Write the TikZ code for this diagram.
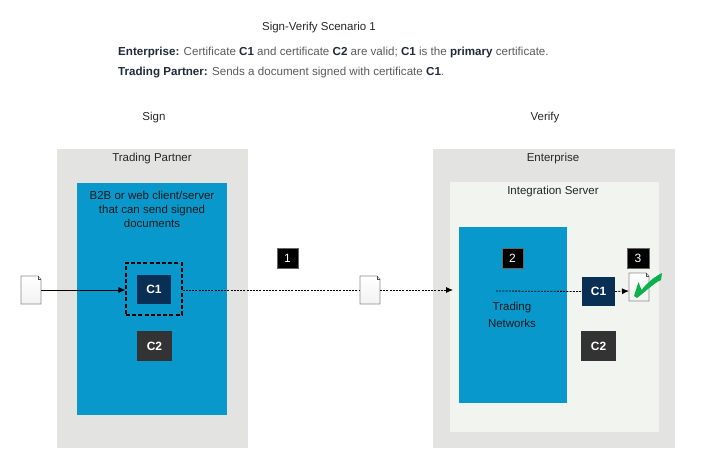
\documentclass[tikz,border=0pt]{standalone}
\usepackage{fontspec}
\setmainfont{Liberation Sans}
\usetikzlibrary{arrows.meta}
\definecolor{panel}{HTML}{E3E3E2}
\definecolor{inner}{HTML}{F2F4F0}
\definecolor{bluebox}{HTML}{0898CC}
\definecolor{navy}{HTML}{0A2F55}
\definecolor{darkc}{HTML}{333333}
\definecolor{bodytxt}{HTML}{5A5A5A}
\definecolor{headtxt}{HTML}{1F2A3A}
\definecolor{tick}{HTML}{0DB14B}
\tikzset{
  x=1pt,y=-1pt,
  panelbox/.style={fill=panel,draw=none,minimum width=#1,inner sep=0},
  txt/.style={font=\fontsize{11.5}{14}\selectfont,text=black!85,inner sep=0,align=center},
  cert/.style={fill=#1,text=white,font=\fontsize{12}{14}\selectfont\bfseries,inner sep=0},
  badge/.style={fill=black,draw=black!60,line width=.4pt,text=white,font=\fontsize{12}{14}\selectfont,inner sep=0,minimum width=21,minimum height=20},
  docu/.style={draw=black!45,line width=.7pt,top color=white,bottom color=black!5},
  flow/.style={densely dashed,dash pattern=on 2pt off 1.2pt,line width=.8pt,-{Latex[length=7pt,width=6pt]}},
  flowplain/.style={dash pattern=on 2pt off 1.2pt,line width=.8pt},
  solidflow/.style={line width=.8pt,-{Latex[length=7pt,width=6pt]}},
}
\newcommand{\docshape}[3]{% name, left, top
  \path[docu] (#2,#3) -- (#2+17,#3) -- (#2+20,#3+3) -- (#2+20,#3+28) -- (#2,#3+28) -- cycle;
  \draw[black!70,line width=.5pt] (#2+17,#3) -- (#2+17,#3+3) -- (#2+20,#3+3);
  \coordinate (#1W) at (#2,#3+14);
  \coordinate (#1E) at (#2+20,#3+14);
}
\begin{document}
\begin{tikzpicture}
\useasboundingbox (0,0) rectangle (701,465);
% panels
\fill[panel] (57,149) rectangle (248,448);
\fill[panel] (433,149) rectangle (675,448);
\fill[inner] (450,182) rectangle (659,432);
\fill[bluebox] (77,183) rectangle (227,415);
\fill[bluebox] (459,227) rectangle (567,403);
% heading text
\node[txt,anchor=center] (title) at (319,28) {Sign-Verify Scenario 1};
\node[anchor=west,inner sep=0,font=\fontsize{11.6}{14}\selectfont,text=bodytxt] (ent) at (118,52.5) {\textcolor{headtxt}{\textbf{Enterprise:}} Certificate \textcolor{headtxt}{\textbf{C1}} and certificate \textcolor{headtxt}{\textbf{C2}} are valid; \textcolor{headtxt}{\textbf{C1}} is the \textcolor{headtxt}{\textbf{primary}} certificate.};
\node[anchor=west,inner sep=0,font=\fontsize{11.6}{14}\selectfont,text=bodytxt] (tp) at (118,73) {\textcolor{headtxt}{\textbf{Trading Partner:}} Sends a document signed with certificate \textcolor{headtxt}{\textbf{C1}}.};
\node[txt] (sign) at (154,118) {Sign};
\node[txt] (verify) at (545,118) {Verify};
\node[txt] (ltitle) at (152,159) {Trading Partner};
\node[txt] (rtitle) at (553,159) {Enterprise};
\node[txt] (istitle) at (553,192) {Integration Server};
\node[txt,text=black!90,font=\fontsize{11.5}{14}\selectfont] (client) at (152,209) {B2B or web client/server\\that can send signed\\documents};
\node[txt,text=black!90,font=\fontsize{11.5}{17}\selectfont] (tn) at (512,314.5) {Trading\\Networks};
% certificates
\node[cert=navy,minimum width=34,minimum height=29] (c1l) at (154,289.5) {C1};
\node[cert=darkc,minimum width=35,minimum height=30] (c2l) at (154.5,346) {C2};
\node[draw=black,dashed,dash pattern=on 4pt off 2.2pt,line width=1.1pt,minimum width=56,minimum height=52,inner sep=0] (sel) at (154,289) {};
\node[cert=navy,minimum width=33,minimum height=29] (c1r) at (598.5,291.5) {C1};
\node[cert=darkc,minimum width=35,minimum height=30] (c2r) at (598.5,346) {C2};
% badges
\node[badge] (b1) at (287.5,258) {1};
\node[badge] (b2) at (512.5,258) {2};
\node[badge,minimum width=22] (b3) at (638,258) {3};
% documents
\docshape{dl}{21}{276}
\docshape{dm}{360}{276}
\docshape{dr}{629}{273}
% check mark
\fill[tick] (634,296) -- (638.5,282) -- (641.5,290) .. controls (647,283) and (654,277) .. (662,273) -- (661,280) .. controls (654,283) and (645,292) .. (637,298) -- cycle;
\coordinate (tnstart) at (496,291);
% connectors
\draw[solidflow] (dlE) -- (sel.west |- dlE);
\draw[flowplain] (sel.east |- dmW) -- (dmW);
\draw[flow] (dmE) -- (453,290);
\draw[flowplain] (tnstart) -- (c1r.west);
\draw[flow] (c1r.east) -- (629,291);
\end{tikzpicture}
\end{document}
